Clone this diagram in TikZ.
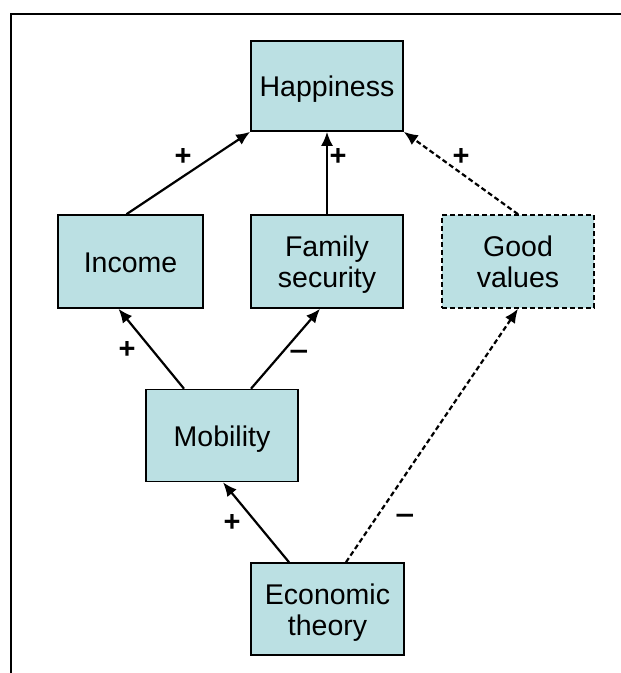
\documentclass[tikz,border=0pt]{standalone}
\usepackage{fontspec}
\usepackage{graphicx}
\setmainfont{Liberation Sans}
\usetikzlibrary{arrows.meta}
\definecolor{boxfill}{RGB}{187,224,227}
\newcommand{\bxtext}[1]{\raisebox{-4.5pt}[\height][\depth]{\begin{tabular}{@{}c@{}}#1\end{tabular}}}
\begin{document}
\begin{tikzpicture}[x=1pt,y=-1pt,
  box/.style={draw=black, line width=1.6pt, fill=boxfill, rectangle, inner sep=0pt,
    font=\fontsize{28.5}{31}\selectfont},
  dbox/.style={box, dash pattern=on 5pt off 3pt},
  conn/.style={line width=2.2pt, -{Latex[length=14pt,width=12pt]}},
  dconn/.style={conn, dash pattern=on 5pt off 3pt},
  sign/.style={inner sep=0pt, font=\fontsize{29}{32}\selectfont\bfseries}]
\useasboundingbox (0,0) rectangle (621,673);
\draw[line width=2.2pt] (11,673) -- (11,14) -- (621,14);

\node[box, minimum width=152pt, minimum height=90pt] (hap) at (327,86) {\bxtext{Happiness}};
\node[box, minimum width=145pt, minimum height=93pt] (inc) at (130.5,261.5) {\bxtext{Income}};
\node[box, minimum width=152pt, minimum height=93pt] (fam) at (327,261.5) {\bxtext{Family\\security}};
\node[dbox, minimum width=152pt, minimum height=93pt] (good) at (518,261.5) {\bxtext{Good\\values}};
\node[box, minimum width=152pt, minimum height=92pt] (mob) at (222,435.5) {\bxtext{Mobility}};
\node[box, minimum width=153pt, minimum height=92pt] (eco) at (327.5,609) {\bxtext{Economic\\theory}};

\draw[conn] ([xshift=-4pt]inc.north) -- (hap.south west);
\draw[conn] (fam.north) -- (hap.south);
\draw[dconn] (good.north) -- (hap.south east);
\draw[conn] ([xshift=-38pt]mob.north) -- ([xshift=-12pt]inc.south);
\draw[conn] ([xshift=29pt]mob.north) -- ([xshift=-7pt]fam.south);
\draw[conn] ([xshift=-38.5pt]eco.north) -- ([xshift=1pt]mob.south);
\draw[dconn] ([xshift=18.5pt]eco.north) -- (good.south);

\node[sign] (s1) at (183,157) {+};
\node[sign] (s2) at (338,157) {+};
\node[sign] (s3) at (461,157) {+};
\node[sign] (s4) at (127,350) {+};
\node[sign] (s5) at (299,355) {\scalebox{1.15}[1]{–}};
\node[sign] (s6) at (232,523) {+};
\node[sign] (s7) at (405,519) {\scalebox{1.15}[1]{–}};
\end{tikzpicture}
\end{document}
